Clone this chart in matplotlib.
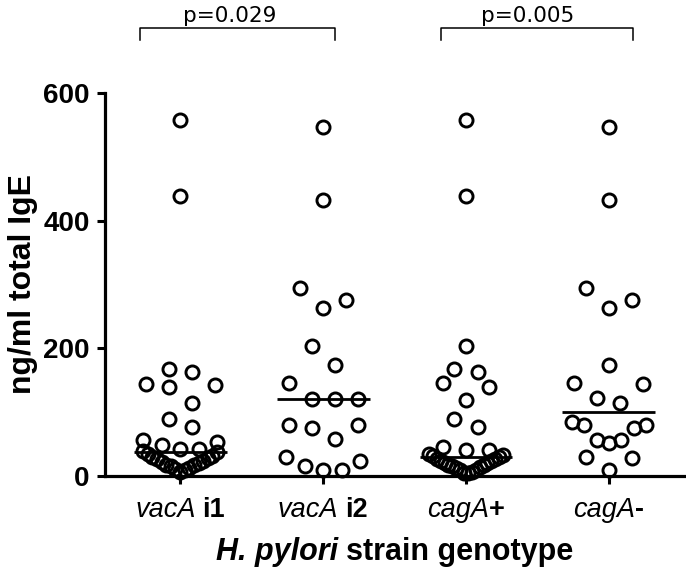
import numpy as np
import matplotlib
matplotlib.use("Agg")
import matplotlib.pyplot as plt
from matplotlib.offsetbox import TextArea, HPacker, AnnotationBbox

plt.rcParams["font.family"] = ["Liberation Sans", "DejaVu Sans"]

# ng/ml total IgE per group
vacA_i1 = [558, 439, 167, 163, 144, 142, 140, 115, 90, 77, 57, 54, 48, 43, 42,
           39, 37, 34, 32, 30, 28, 26, 24, 22, 20, 18, 17, 15, 13, 11, 9, 7]
vacA_i2 = [547, 432, 294, 275, 263, 204, 174, 146, 120, 120, 120,
           80, 80, 75, 58, 29, 23, 15, 9, 9]
cagA_pos = [558, 439, 204, 167, 163, 145, 140, 119, 89, 77, 46, 41, 41,
            35, 33, 31, 29, 27, 26, 24, 23, 21, 20, 18, 17, 15, 14, 12, 10, 9, 7, 5, 4]
cagA_neg = [547, 432, 294, 275, 263, 174, 146, 144, 122, 115,
            85, 80, 80, 75, 57, 56, 51, 29, 28, 9]

groups = [vacA_i1, vacA_i2, cagA_pos, cagA_neg]
label_it = ["vacA", "vacA", "cagA", "cagA"]
label_bf = ["i1", "i2", "+", "-"]
comparisons = [(-0.28, 1.084, "p=0.029", 0.35), (1.825, 3.17, "p=0.005", 2.43)]


def swarm_offsets(vals, bin_h=35, step=0.161, half_w=0.259):
    vals = np.asarray(vals, dtype=float)
    order = np.argsort(vals, kind="stable")
    v = vals[order]
    offs = np.zeros(len(v))
    i = 0
    while i < len(v):
        j = i
        while j < len(v) and v[j] - v[i] < bin_h:
            j += 1
        n = j - i
        if n > 1:
            if n % 2:
                slots = [0] + [s * k for k in range(1, n // 2 + 1) for s in (1, -1)]
                maxk = n // 2
            else:
                slots = [s * (k - 0.5) for k in range(1, n // 2 + 1) for s in (1, -1)]
                maxk = n / 2 - 0.5
            d = min(step, half_w / maxk)
            offs[i:j] = np.array(slots[:n]) * d
        i = j
    out = np.empty(len(v))
    out[order] = offs
    return out


fig = plt.figure(figsize=(6.86, 5.7), dpi=100)
ax = fig.add_axes([0.1531, 0.1649, 0.844, 0.672])

for gi, vals in enumerate(groups):
    xs = gi + swarm_offsets(vals)
    ax.plot(xs, vals, "o", ms=9.4, mfc="none", mec="black", mew=2.1,
            clip_on=False, zorder=3)
    med = np.median(vals)
    ax.hlines(med, gi - 0.325, gi + 0.325, color="black", lw=2.0, zorder=4)

ax.set_xlim(-0.525, 3.525)
ax.set_ylim(0, 600)
ax.set_yticks([0, 200, 400, 600])
ax.set_xticks(range(len(groups)))
ax.set_xticklabels([])
ax.tick_params(axis="y", length=6, width=2.2, pad=5, labelsize=20)
ax.tick_params(axis="x", length=5.5, width=2.2)
for lab in ax.get_yticklabels():
    lab.set_fontweight("bold")

for side in ["top", "right"]:
    ax.spines[side].set_visible(False)
for side in ["left", "bottom"]:
    ax.spines[side].set_linewidth(2.3)

# group labels: italic gene name + bold allele
for gi in range(len(groups)):
    box = HPacker(children=[
        TextArea(label_it[gi], textprops=dict(style="italic", fontsize=19.5)),
        TextArea(label_bf[gi], textprops=dict(weight="bold", fontsize=19.5)),
    ], align="baseline", pad=0, sep=5 if label_bf[gi].startswith("i") else 0)
    ab = AnnotationBbox(box, (gi, 0), xybox=(0, -15), xycoords=("data", "axes fraction"),
                        boxcoords="offset points", frameon=False, box_alignment=(0.5, 1))
    ax.add_artist(ab)

xl = HPacker(children=[
    TextArea("H. pylori", textprops=dict(style="italic", weight="bold", fontsize=22)),
    TextArea("strain genotype", textprops=dict(weight="bold", fontsize=22)),
], align="baseline", pad=0, sep=6)
ax.add_artist(AnnotationBbox(xl, (0.5, 0), xybox=(0, -44), xycoords="axes fraction",
                             boxcoords="offset points", frameon=False, box_alignment=(0.5, 1)))

ax.set_ylabel("ng/ml total IgE", fontsize=23, fontweight="bold", labelpad=4)

# significance brackets
for x0, x1, txt, xt in comparisons:
    ax.plot([x0, x0, x1, x1], [683, 702, 702, 683], color="black", lw=1.1, clip_on=False)
    ax.text(xt, 711, txt, ha="center", va="baseline", fontsize=15.5, family="DejaVu Sans")

fig.savefig("out.png", dpi=100)
